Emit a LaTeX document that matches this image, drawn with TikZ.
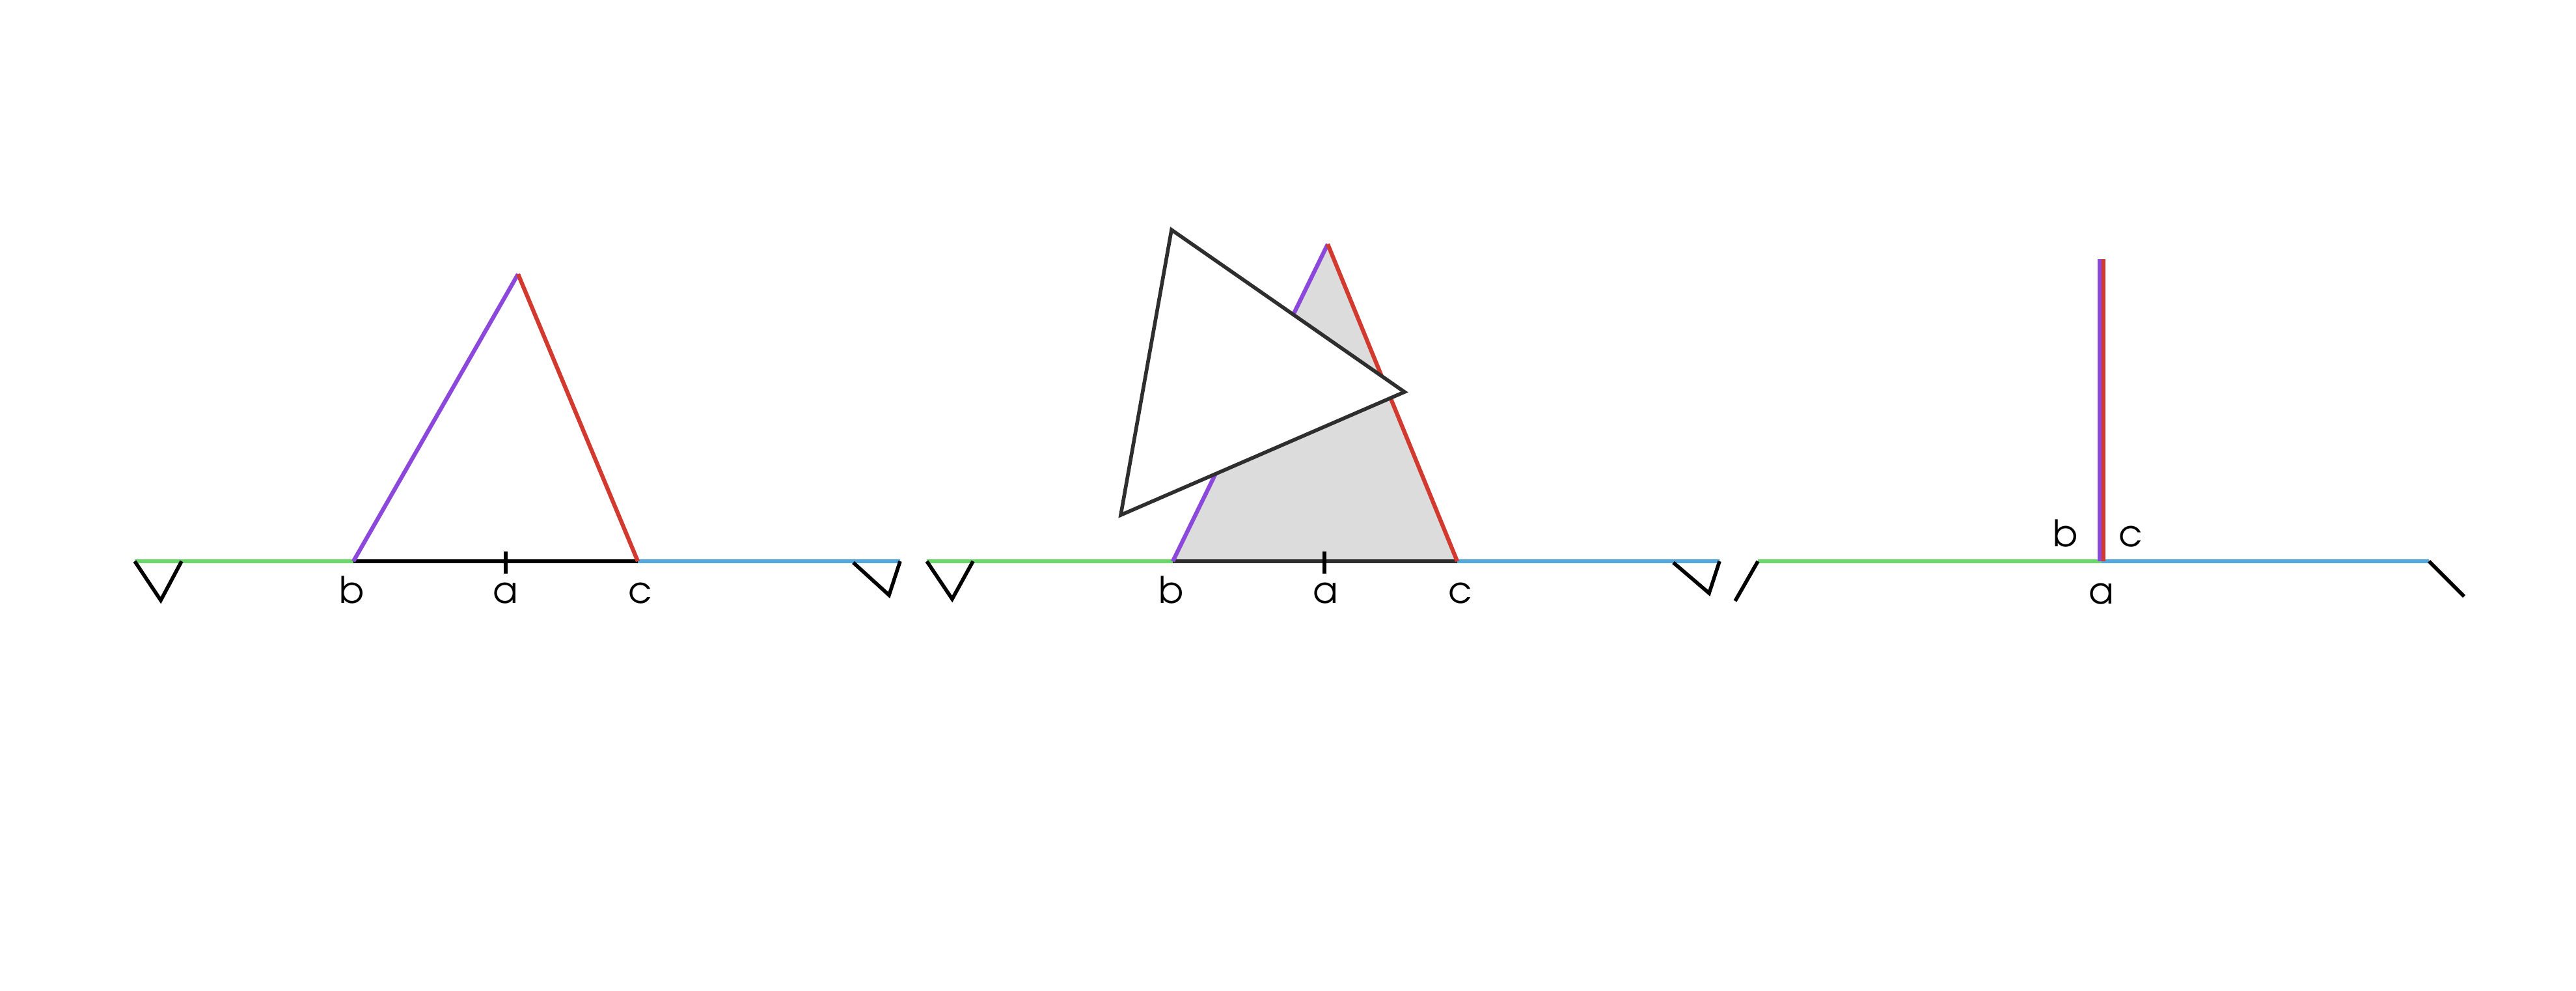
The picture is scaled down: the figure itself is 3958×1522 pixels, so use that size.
\documentclass[tikz,border=0pt]{standalone}
\usepackage{fontspec}
\setmainfont{TeX Gyre Adventor}
\usepackage{tikz}
\definecolor{lgreen}{HTML}{6AD76A}
\definecolor{lblue}{HTML}{52A8DD}
\definecolor{lpurple}{HTML}{8B48DA}
\definecolor{lred}{HTML}{D23A30}
\definecolor{lgray}{HTML}{DCDCDC}
\definecolor{dgray}{HTML}{2E2E2E}
\tikzset{leftpart/.style = {draw = lgreen, line width = 1.9pt}}
\tikzset{rightpart/.style = {draw = lblue, line width = 1.9pt}}
\tikzset{sideb/.style = {draw = lpurple, line width = 1.8pt}}
\tikzset{sidec/.style = {draw = lred, line width = 1.8pt}}
\tikzset{ground/.style = {draw = black, line width = 1.6pt}}
\tikzset{endmark/.style = {draw = black, line width = 1.6pt, line join = miter}}
\tikzset{lbl/.style = {anchor = base, inner sep = 0pt, font = \fontsize{16pt}{19pt}\selectfont}}

\begin{document}
\begin{tikzpicture}[x = 0.01cm, y = -0.01cm]
	\useasboundingbox (0, 0) rectangle (3958, 1522);

	% first picture
	\coordinate (l1) at (207, 862);
	\coordinate (lv1) at (247, 922);
	\coordinate (lw1) at (279, 862);
	\coordinate (b1) at (543, 862);
	\coordinate (up1) at (777, 847);
	\coordinate (dn1) at (777, 881);
	\coordinate (c1) at (980, 862);
	\coordinate (t1) at (796, 421);
	\coordinate (r1) at (1383, 862);
	\coordinate (rv1) at (1366, 914);
	\coordinate (rw1) at (1311, 864);

	\draw[leftpart] (l1) -- (b1);
	\draw[rightpart] (c1) -- (r1);
	\draw[ground] (b1) -- (c1);
	\draw[ground] (up1) -- (dn1);
	\draw[sideb] (b1) -- (t1);
	\draw[sidec] (t1) -- (c1);
	\draw[endmark] (l1) -- (lv1) -- (lw1);
	\draw[endmark] (rw1) -- (rv1) -- (r1);

	\node[lbl] (nb1) at (541, 926) {b};
	\node[lbl] (na1) at (777, 926) {a};
	\node[lbl] (nc1) at (984, 926) {c};

	% second picture
	\coordinate (l2) at (1424, 862);
	\coordinate (lv2) at (1463, 920);
	\coordinate (lw2) at (1495, 862);
	\coordinate (b2) at (1802, 862);
	\coordinate (up2) at (2035, 847);
	\coordinate (dn2) at (2035, 881);
	\coordinate (c2) at (2239, 862);
	\coordinate (t2) at (2040, 375);
	\coordinate (r2) at (2642, 862);
	\coordinate (rv2) at (2626, 911);
	\coordinate (rw2) at (2571, 864);
	\coordinate (p) at (1800, 353);
	\coordinate (q) at (2158, 602);
	\coordinate (s) at (1722, 791);

	\fill[lgray] (b2) -- (t2) -- (c2) -- cycle;
	\draw[leftpart] (l2) -- (b2);
	\draw[rightpart] (c2) -- (r2);
	\draw[ground, draw = dgray] (b2) -- (c2);
	\draw[ground] (up2) -- (dn2);
	\draw[sideb] (b2) -- (t2);
	\draw[sidec] (t2) -- (c2);
	\draw[endmark] (l2) -- (lv2) -- (lw2);
	\draw[endmark] (rw2) -- (rv2) -- (r2);
	\filldraw[fill = white, draw = dgray, line width = 1.6pt] (p) -- (q) -- (s) -- cycle;

	\node[lbl] (nb2) at (1800, 926) {b};
	\node[lbl] (na2) at (2037, 926) {a};
	\node[lbl] (nc2) at (2244, 926) {c};

	% third picture
	\coordinate (l3) at (2701, 862);
	\coordinate (lv3) at (2666, 923);
	\coordinate (a3) at (3229, 862);
	\coordinate (r3) at (3732, 862);
	\coordinate (rv3) at (3786, 916);
	\coordinate (tb3) at (3226, 398);
	\coordinate (tc3) at (3232, 398);
	\coordinate (bb3) at (3226, 862);
	\coordinate (bc3) at (3232, 862);

	\draw[leftpart] (l3) -- (a3);
	\draw[rightpart] (a3) -- (r3);
	\draw[sideb] (bb3) -- (tb3);
	\draw[sidec] (bc3) -- (tc3);
	\draw[endmark] (l3) -- (lv3);
	\draw[endmark] (r3) -- (rv3);

	\node[lbl] (nb3) at (3174, 839) {b};
	\node[lbl] (nc3) at (3274, 839) {c};
	\node[lbl] (na3) at (3229, 927) {a};
\end{tikzpicture}
\end{document}
